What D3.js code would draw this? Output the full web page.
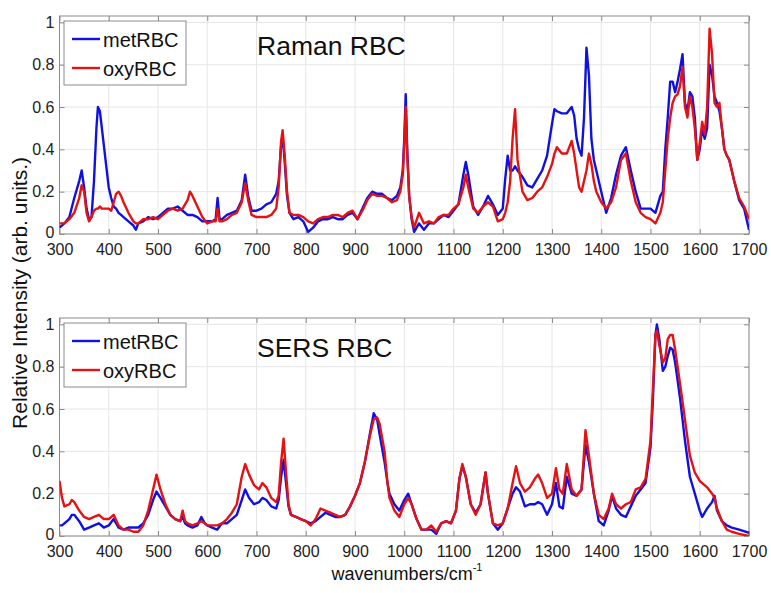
<!DOCTYPE html>
<html lang="en">
<head>
<meta charset="UTF-8">
<title>Raman / SERS RBC</title>
<script src="https://d3js.org/d3.v7.min.js"></script>
<style>
    body { margin: 0; background: #fff; }
    svg { font-family: "Liberation Sans", Arial, sans-serif; }
    .grid line { stroke: #e6e6e6; stroke-width: 1; }
    .axis text { font-size: 16px; fill: #222; }
    .axis line { stroke: #8c8c8c; }
    .axis path { display: none; }
    .frame { fill: none; stroke: #8c8c8c; stroke-width: 1; }
    .spectrum { fill: none; stroke-width: 2.4; stroke-linejoin: round; }
</style>
</head>
<body>
<svg id="chart" width="771" height="593"></svg>
<script>
    // Raman RBC (top panel) - one row per 100 cm-1
    const ramanWn = [
        300, 310, 320, 330, 340, 345, 350, 355, 360, 365, 370, 375, 378, 382, 386, 390, 395,
        400, 405, 410, 415, 420, 425, 430, 440, 450, 455, 460, 470, 480, 490,
        500, 510, 520, 530, 540, 550, 560, 565, 570, 580, 590,
        600, 610, 617, 621, 625, 630, 640, 650, 660, 670, 677, 683, 690,
        700, 710, 720, 730, 740, 745, 750, 753, 757, 762, 767, 775, 785, 795,
        805, 815, 825, 835, 845, 855, 865, 875, 885, 895,
        905, 915, 925, 935, 945, 955, 965, 975, 985, 992, 997, 1000, 1003, 1006,
        1010, 1015, 1020, 1030, 1040, 1050, 1060, 1070, 1080, 1090,
        1100, 1110, 1120, 1125, 1130, 1140, 1150, 1160, 1170, 1180, 1190,
        1200, 1205, 1210, 1215, 1220, 1225, 1230, 1240, 1250, 1260, 1270, 1280, 1290,
        1300, 1305, 1310, 1320, 1330, 1340, 1345, 1350, 1355, 1360, 1365, 1370, 1375, 1380, 1385, 1390,
        1400, 1410, 1420, 1430, 1440, 1450, 1460, 1470, 1480, 1490,
        1500, 1510, 1520, 1525, 1530, 1535, 1540, 1545, 1550, 1555, 1560, 1565, 1570, 1575, 1580, 1585, 1590, 1595,
        1600, 1605, 1610, 1615, 1620, 1625, 1630, 1635, 1640, 1645, 1650, 1655, 1660, 1670, 1680, 1690, 1700
    ];
    const ramanMet = [
        0.03, 0.05, 0.08, 0.17, 0.25, 0.30, 0.22, 0.12, 0.07, 0.08, 0.25, 0.50, 0.60, 0.58, 0.50, 0.42, 0.32,
        0.22, 0.17, 0.13, 0.12, 0.10, 0.09, 0.08, 0.06, 0.04, 0.02, 0.05, 0.06, 0.08, 0.07,
        0.08, 0.10, 0.12, 0.12, 0.13, 0.11, 0.09, 0.09, 0.09, 0.08, 0.06,
        0.06, 0.06, 0.07, 0.17, 0.07, 0.07, 0.09, 0.10, 0.11, 0.16, 0.28, 0.18, 0.11,
        0.11, 0.12, 0.14, 0.15, 0.19, 0.25, 0.42, 0.46, 0.35, 0.18, 0.10, 0.07, 0.08, 0.06,
        0.01, 0.03, 0.06, 0.07, 0.07, 0.08, 0.07, 0.07, 0.09, 0.10,
        0.07, 0.12, 0.17, 0.20, 0.19, 0.19, 0.17, 0.16, 0.18, 0.22, 0.30, 0.45, 0.66, 0.40,
        0.18, 0.07, 0.01, 0.05, 0.02, 0.05, 0.05, 0.07, 0.09, 0.08,
        0.11, 0.14, 0.28, 0.34, 0.28, 0.13, 0.09, 0.13, 0.18, 0.14, 0.09,
        0.12, 0.26, 0.37, 0.30, 0.30, 0.32, 0.30, 0.27, 0.23, 0.22, 0.26, 0.30, 0.37,
        0.52, 0.59, 0.58, 0.57, 0.57, 0.60, 0.56, 0.45, 0.40, 0.37, 0.55, 0.88, 0.75, 0.45, 0.35, 0.30,
        0.20, 0.10, 0.17, 0.28, 0.37, 0.41, 0.30, 0.20, 0.12, 0.12,
        0.12, 0.10, 0.18, 0.20, 0.40, 0.55, 0.72, 0.72, 0.67, 0.72, 0.78, 0.85, 0.62, 0.58, 0.67, 0.65, 0.55, 0.35,
        0.40, 0.50, 0.45, 0.50, 0.80, 0.75, 0.65, 0.62, 0.58, 0.50, 0.40, 0.37, 0.35, 0.25, 0.16, 0.12, 0.02
    ];
    const ramanOxy = [
        0.05, 0.05, 0.07, 0.10, 0.17, 0.23, 0.20, 0.10, 0.06, 0.08, 0.11, 0.12, 0.12, 0.13, 0.12, 0.12, 0.12,
        0.12, 0.11, 0.15, 0.19, 0.20, 0.18, 0.15, 0.10, 0.06, 0.05, 0.05, 0.07, 0.07, 0.08,
        0.07, 0.09, 0.11, 0.12, 0.11, 0.12, 0.16, 0.20, 0.18, 0.13, 0.08,
        0.05, 0.06, 0.06, 0.12, 0.06, 0.06, 0.07, 0.09, 0.10, 0.15, 0.24, 0.16, 0.09,
        0.08, 0.08, 0.08, 0.09, 0.12, 0.22, 0.44, 0.49, 0.38, 0.20, 0.10, 0.09, 0.09, 0.08,
        0.06, 0.05, 0.07, 0.08, 0.08, 0.09, 0.09, 0.08, 0.10, 0.11,
        0.07, 0.11, 0.16, 0.19, 0.18, 0.18, 0.17, 0.15, 0.16, 0.20, 0.28, 0.42, 0.60, 0.38,
        0.18, 0.08, 0.03, 0.10, 0.05, 0.06, 0.05, 0.08, 0.09, 0.09,
        0.12, 0.14, 0.22, 0.28, 0.22, 0.12, 0.10, 0.13, 0.15, 0.13, 0.06,
        0.07, 0.10, 0.15, 0.25, 0.45, 0.59, 0.35, 0.20, 0.16, 0.17, 0.20, 0.22, 0.27,
        0.33, 0.38, 0.41, 0.38, 0.38, 0.44, 0.38, 0.30, 0.22, 0.20, 0.25, 0.30, 0.38, 0.33, 0.25, 0.20,
        0.15, 0.12, 0.15, 0.22, 0.35, 0.38, 0.25, 0.15, 0.10, 0.08,
        0.07, 0.05, 0.10, 0.15, 0.30, 0.45, 0.55, 0.62, 0.65, 0.66, 0.70, 0.79, 0.60, 0.55, 0.65, 0.60, 0.50, 0.35,
        0.43, 0.53, 0.47, 0.60, 0.97, 0.85, 0.62, 0.60, 0.62, 0.50, 0.40, 0.37, 0.35, 0.25, 0.17, 0.13, 0.07
    ];

    // SERS RBC (bottom panel)
    const sersWn = [
        300, 305, 310, 320, 325, 330, 340, 350, 360, 370, 380, 390,
        400, 410, 420, 430, 440, 450, 460, 470, 480, 490, 497,
        505, 515, 525, 535, 545, 550, 555, 560, 570, 580, 588, 595,
        600, 610, 620, 630, 640, 650, 660, 670, 677, 685, 695,
        705, 712, 720, 730, 740, 745, 750, 755, 760, 765, 770, 780, 790,
        800, 810, 820, 830, 840, 850, 860, 870, 880, 890,
        900, 910, 920, 930, 938, 945, 950, 960, 966, 970, 980, 990,
        1000, 1008, 1015, 1025, 1035, 1045, 1055, 1065, 1075, 1085, 1095,
        1105, 1112, 1118, 1125, 1135, 1145, 1155, 1165, 1170, 1180, 1190,
        1200, 1210, 1220, 1227, 1235, 1245, 1255, 1265, 1272, 1280, 1290,
        1300, 1308, 1315, 1322, 1330, 1340, 1350, 1360, 1368, 1375, 1385, 1395,
        1405, 1415, 1422, 1430, 1440, 1450, 1460, 1470, 1480, 1490,
        1500, 1505, 1510, 1513, 1518, 1525, 1530, 1535, 1540, 1545, 1550, 1560, 1570, 1580, 1590,
        1600, 1605, 1615, 1625, 1630, 1635, 1645, 1655, 1665, 1680, 1700
    ];
    const sersMet = [
        0.05, 0.05, 0.06, 0.08, 0.10, 0.10, 0.07, 0.03, 0.04, 0.05, 0.06, 0.04,
        0.05, 0.08, 0.04, 0.03, 0.04, 0.04, 0.04, 0.06, 0.10, 0.17, 0.21,
        0.18, 0.14, 0.10, 0.08, 0.07, 0.09, 0.06, 0.05, 0.04, 0.05, 0.09, 0.06,
        0.05, 0.04, 0.03, 0.06, 0.06, 0.08, 0.10, 0.17, 0.22, 0.18, 0.15,
        0.16, 0.18, 0.17, 0.14, 0.13, 0.17, 0.28, 0.36, 0.25, 0.14, 0.10, 0.09, 0.08,
        0.07, 0.06, 0.07, 0.09, 0.11, 0.10, 0.09, 0.09, 0.10, 0.14,
        0.19, 0.25, 0.35, 0.48, 0.58, 0.55, 0.48, 0.35, 0.25, 0.20, 0.15, 0.12,
        0.17, 0.20, 0.15, 0.08, 0.03, 0.03, 0.03, 0.01, 0.06, 0.07, 0.06,
        0.12, 0.27, 0.33, 0.28, 0.15, 0.11, 0.15, 0.30, 0.20, 0.06, 0.03,
        0.06, 0.13, 0.20, 0.23, 0.21, 0.14, 0.15, 0.15, 0.16, 0.15, 0.10,
        0.15, 0.25, 0.14, 0.13, 0.28, 0.20, 0.19, 0.22, 0.43, 0.35, 0.20, 0.07,
        0.05, 0.12, 0.19, 0.13, 0.10, 0.09, 0.14, 0.19, 0.22, 0.25,
        0.42, 0.65, 0.95, 1.00, 0.93, 0.78, 0.80, 0.85, 0.89, 0.88, 0.82, 0.65, 0.45, 0.28, 0.20,
        0.12, 0.09, 0.13, 0.16, 0.19, 0.12, 0.07, 0.05, 0.04, 0.03, 0.015
    ];
    const sersOxy = [
        0.26, 0.18, 0.14, 0.15, 0.17, 0.16, 0.12, 0.09, 0.08, 0.09, 0.10, 0.08,
        0.08, 0.10, 0.05, 0.03, 0.03, 0.02, 0.02, 0.05, 0.12, 0.22, 0.29,
        0.22, 0.15, 0.10, 0.08, 0.07, 0.12, 0.07, 0.06, 0.05, 0.06, 0.07, 0.06,
        0.05, 0.05, 0.05, 0.06, 0.08, 0.11, 0.15, 0.28, 0.34, 0.29, 0.24,
        0.22, 0.25, 0.23, 0.18, 0.16, 0.19, 0.35, 0.46, 0.30, 0.15, 0.10, 0.09, 0.08,
        0.07, 0.05, 0.08, 0.13, 0.12, 0.11, 0.10, 0.09, 0.10, 0.14,
        0.19, 0.25, 0.35, 0.47, 0.55, 0.56, 0.53, 0.40, 0.25, 0.18, 0.12, 0.09,
        0.15, 0.18, 0.15, 0.08, 0.03, 0.03, 0.05, 0.02, 0.06, 0.07, 0.06,
        0.12, 0.27, 0.34, 0.28, 0.15, 0.10, 0.15, 0.30, 0.20, 0.06, 0.05,
        0.06, 0.13, 0.25, 0.33, 0.25, 0.21, 0.23, 0.27, 0.29, 0.25, 0.18,
        0.20, 0.32, 0.22, 0.20, 0.34, 0.22, 0.19, 0.22, 0.50, 0.38, 0.20, 0.10,
        0.08, 0.13, 0.20, 0.15, 0.13, 0.15, 0.16, 0.22, 0.23, 0.27,
        0.45, 0.70, 0.95, 0.97, 0.90, 0.82, 0.84, 0.93, 0.95, 0.95, 0.88, 0.72, 0.55, 0.38, 0.30,
        0.26, 0.25, 0.23, 0.20, 0.18, 0.13, 0.07, 0.03, 0.02, 0.01, 0.00
    ];

    const xTicks = [300, 400, 500, 600, 700, 800, 900, 1000, 1100, 1200, 1300, 1400, 1500, 1600, 1700];
    const yTicks = [0, 0.2, 0.4, 0.6, 0.8, 1];
    const yTickLabels = ["0", "0.2", "0.4", "0.6", "0.8", "1"];
    const seriesNames = ["metRBC", "oxyRBC"];
    const seriesColors = ["#1010e4", "#e41212"];

    const svg = d3.select("#chart");
    const left = 59.5, right = 749;
    const x = d3.scaleLinear().domain([300, 1700]).range([left, right]);

    function drawPanel(id, top, bottom, title, wn, met, oxy) {
        const y = d3.scaleLinear().domain([0, 1.03]).range([bottom, top]);
        const g = svg.append("g");

        // grid
        const grid = g.append("g").attr("class", "grid");
        grid.selectAll(".gx").data(xTicks).enter().append("line")
            .attr("x1", d => x(d)).attr("x2", d => x(d))
            .attr("y1", top).attr("y2", bottom);
        grid.selectAll(".gy").data(yTicks).enter().append("line")
            .attr("x1", left).attr("x2", right)
            .attr("y1", d => y(d)).attr("y2", d => y(d));

        // axes, ticks pointing inward on all four sides
        g.append("g").attr("class", "axis")
            .attr("transform", `translate(0,${bottom})`)
            .call(d3.axisBottom(x).tickValues(xTicks).tickSize(-5).tickPadding(10).tickFormat(d3.format("d")));
        g.append("g").attr("class", "axis")
            .attr("transform", `translate(0,${top})`)
            .call(d3.axisTop(x).tickValues(xTicks).tickSize(-5).tickFormat(""));
        const yAxis = g.append("g").attr("class", "axis")
            .attr("transform", `translate(${left},0)`)
            .call(d3.axisLeft(y).tickValues(yTicks).tickSize(-5).tickPadding(5)
                .tickFormat((d, i) => yTickLabels[i]));
        // the "0" sits a bit higher so it clears the first x label
        yAxis.selectAll(".tick text").filter(d => d === 0).attr("dy", "0.2em");
        g.append("g").attr("class", "axis")
            .attr("transform", `translate(${right},0)`)
            .call(d3.axisRight(y).tickValues(yTicks).tickSize(-5).tickFormat(""));

        g.append("rect").attr("class", "frame")
            .attr("x", left).attr("y", top)
            .attr("width", right - left).attr("height", bottom - top);

        // spectra
        svg.append("clipPath").attr("id", "clip" + id)
            .append("rect").attr("x", left).attr("y", top)
            .attr("width", right - left).attr("height", bottom - top);
        const line = d3.line().x(d => x(d[0])).y(d => y(d[1]));
        [met, oxy].forEach((vals, k) => {
            g.append("path")
                .attr("class", "spectrum")
                .attr("clip-path", `url(#clip${id})`)
                .attr("stroke", seriesColors[k])
                .attr("d", line(d3.zip(wn, vals)));
        });

        // title
        g.append("text")
            .attr("x", 257).attr("y", top + 39)
            .attr("font-size", 26.5).attr("fill", "#111")
            .text(title);

        // legend
        const lg = g.append("g").attr("transform", `translate(64,${top + 5})`);
        lg.append("rect").attr("width", 122).attr("height", 64)
            .attr("fill", "#fff").attr("stroke", "#8c8c8c");
        seriesNames.forEach((name, k) => {
            const ly = 18 + k * 29;
            lg.append("line").attr("x1", 8).attr("x2", 36)
                .attr("y1", ly).attr("y2", ly)
                .attr("stroke", seriesColors[k]).attr("stroke-width", 2.4);
            lg.append("text").attr("x", 39).attr("y", ly + 8)
                .attr("font-size", 20).attr("fill", "#111")
                .text(name);
        });
    }

    drawPanel("a", 16, 234, "Raman RBC", ramanWn, ramanMet, ramanOxy);
    drawPanel("b", 318, 536, "SERS RBC", sersWn, sersMet, sersOxy);

    // axis titles
    const xl = svg.append("text")
        .attr("x", 407).attr("y", 580)
        .attr("text-anchor", "middle")
        .attr("font-size", 18).attr("fill", "#111");
    xl.append("tspan").text("wavenumbers/cm");
    xl.append("tspan").attr("font-size", 11).attr("dy", -9).text("-1");

    svg.append("text")
        .attr("transform", "translate(27,293) rotate(-90)")
        .attr("text-anchor", "middle")
        .attr("font-size", 21).attr("fill", "#111")
        .text("Relative Intensity (arb. units.)");
</script>
</body>
</html>
